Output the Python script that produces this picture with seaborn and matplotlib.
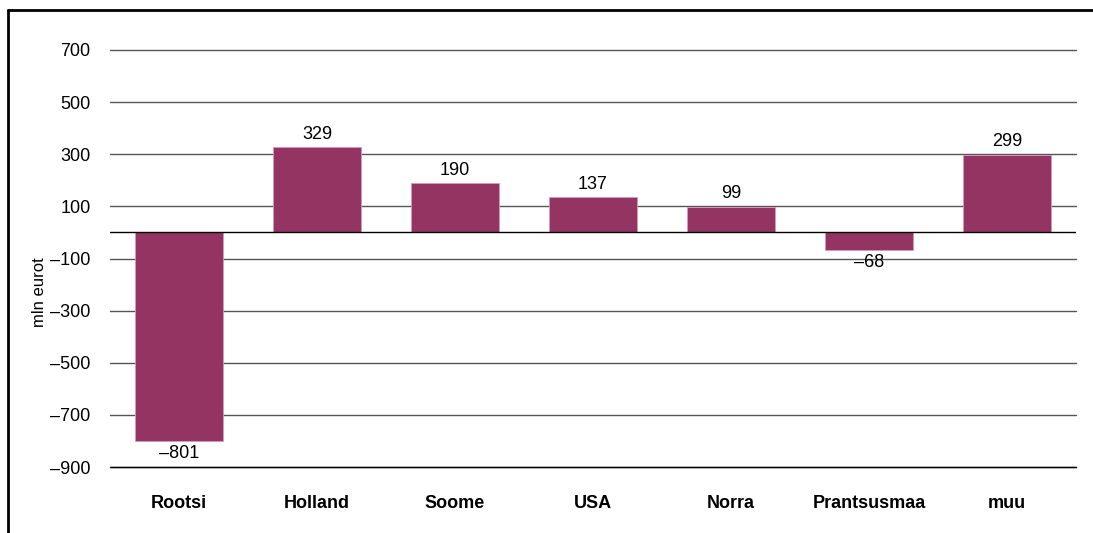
import matplotlib
matplotlib.use("Agg")
import matplotlib.pyplot as plt
import seaborn as sns
import pandas as pd
from matplotlib.lines import Line2D

categories = ["Rootsi", "Holland", "Soome", "USA", "Norra", "Prantsusmaa", "muu"]
values = [-801, 329, 190, 137, 99, -68, 299]
yticks = [-900, -700, -500, -300, -100, 100, 300, 500, 700]

sns.set_theme(style="white")
plt.rcParams['font.family'] = ['Liberation Sans', 'DejaVu Sans']
plt.rcParams['text.color'] = 'black'
plt.rcParams['axes.labelcolor'] = 'black'
plt.rcParams['xtick.color'] = 'black'
plt.rcParams['ytick.color'] = 'black'

df = pd.DataFrame({"country": categories, "value": values})

fig = plt.figure(figsize=(10.93, 5.33), dpi=100)
ax = fig.add_axes([0.1006, 0.1238, 0.8838, 0.7824])

for t in yticks:
    ax.axhline(t, color="#555555", lw=1.0, zorder=0, clip_on=False)
ax.axhline(-900, color="black", lw=1.0, zorder=0, clip_on=False)

sns.barplot(data=df, x="country", y="value", color="#943462", width=0.64,
            saturation=1, edgecolor="#d79ab8", linewidth=0.6, ax=ax, zorder=2)
ax.axhline(0, color="black", lw=1.0, zorder=3)

for i, v in enumerate(values):
    lab = str(v).replace("-", "\u2013")
    if v >= 0:
        ax.text(i, v + 16, lab, ha="center", va="bottom", fontsize=13, color="black")
    else:
        ax.text(i, v - 16, lab, ha="center", va="top", fontsize=13, color="black")

ax.set_ylim(-900, 700)
ax.set_xlim(-0.5, len(categories) - 0.5)
ax.set_yticks(yticks)
ax.set_yticklabels([str(t).replace("-", "\u2013") for t in yticks], fontsize=13)
ax.set_xticks(range(len(categories)))
ax.set_xticklabels(categories, fontsize=13, fontweight="bold")
ax.tick_params(axis="y", length=0, pad=14)
ax.tick_params(axis="x", length=0, pad=20)
ax.set_xlabel("")
ax.set_ylabel("mln eurot", fontsize=12)
ax.yaxis.set_label_coords(-0.065, 0.42)
for s in ax.spines.values():
    s.set_visible(False)

fig.add_artist(Line2D([8/1093, 8/1093], [0, 1 - 10/533], color="black", lw=2, transform=fig.transFigure))
fig.add_artist(Line2D([8/1093, 1.0], [1 - 10/533, 1 - 10/533], color="black", lw=2, transform=fig.transFigure))

fig.savefig("out.png", dpi=100)
